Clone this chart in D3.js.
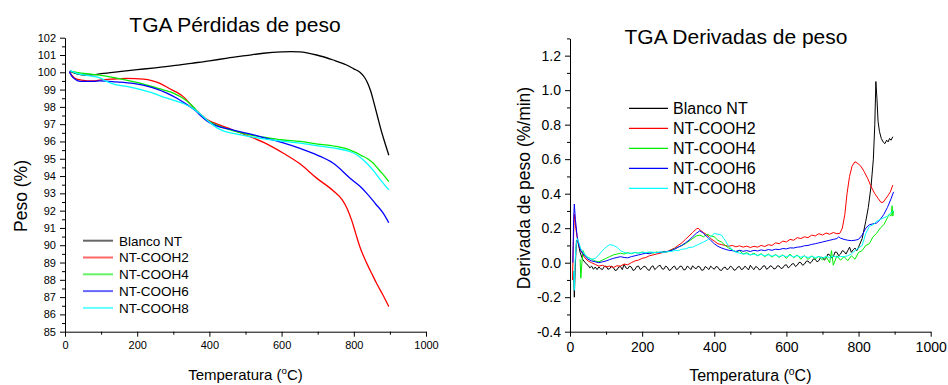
<!DOCTYPE html>
<html>
<head>
<meta charset="utf-8">
<script src="https://cdn.jsdelivr.net/npm/d3@7"></script>
<style>
  body { margin: 0; background: #fff; }
  svg { font-family: "Liberation Sans", Arial, sans-serif; }
  .axis path, .axis line { stroke: #000; }
  .axis text { fill: #000; }
</style>
</head>
<body>
<svg width="948" height="385"></svg>
<script>
// series names and colours
const seriesNames = ["Blanco NT", "NT-COOH2", "NT-COOH4", "NT-COOH6", "NT-COOH8"];
const seriesColors = ["#000000", "#ff0000", "#00ee00", "#0000ff", "#00ffff"];

const xTicks = [0, 200, 400, 600, 800, 1000];
const xMinor = [100, 300, 500, 700, 900];

// TGA weight loss, [temperature, peso %]
const pesoBlanco = [[14,100.1],[20,100.0],[40,99.88],[60,99.83],[80,99.86],[100,99.92],[150,100.04],[200,100.15],[250,100.26],[300,100.38],[350,100.52],[400,100.66],[450,100.82],[500,100.96],[550,101.1],[600,101.18],[625,101.2],[650,101.18],[697,101.0],[743,100.71],[780,100.42],[800,100.2],[817,100.0],[830,99.7],[840,99.3],[847,98.9],[855,98.3],[865,97.5],[875,96.7],[885,96.0],[897,95.2]];
const pesoCooh2 = [[13,100.0],[20,99.8],[30,99.62],[45,99.55],[78,99.5],[100,99.56],[125,99.6],[171,99.65],[217,99.6],[240,99.52],[263,99.36],[290,99.05],[309,98.85],[330,98.55],[356,97.95],[374,97.6],[395,97.25],[420,97.02],[460,96.7],[512,96.28],[560,95.85],[605,95.32],[650,94.72],[697,93.88],[743,93.15],[768,92.62],[782,92.1],[794,91.45],[805,90.7],[817,89.9],[836,88.95],[850,88.35],[863,87.8],[880,87.15],[897,86.45]];
const pesoCooh4 = [[18,100.05],[32,100.0],[60,99.92],[97,99.84],[140,99.68],[189,99.46],[230,99.25],[270,99.0],[300,98.8],[319,98.6],[340,98.3],[360,97.9],[374,97.55],[395,97.2],[420,96.95],[460,96.65],[512,96.38],[560,96.22],[600,96.1],[651,96.0],[700,95.85],[750,95.72],[790,95.5],[803,95.38],[820,95.2],[838,95.0],[854,94.74],[870,94.35],[885,94.0],[897,93.68]];
const pesoCooh6 = [[12,100.05],[18,99.8],[28,99.6],[42,99.48],[78,99.48],[97,99.5],[140,99.45],[189,99.36],[240,99.13],[282,98.8],[310,98.5],[340,98.1],[360,97.8],[374,97.53],[395,97.15],[420,96.9],[466,96.66],[512,96.44],[559,96.18],[600,95.95],[651,95.6],[700,95.2],[743,94.74],[795,93.78],[820,93.35],[836,93.0],[860,92.4],[880,91.9],[897,91.3]];
const pesoCooh8 = [[14,100.1],[30,99.95],[60,99.82],[97,99.68],[115,99.47],[140,99.28],[171,99.18],[235,98.85],[280,98.52],[327,98.2],[355,97.9],[374,97.6],[400,97.12],[420,96.8],[440,96.6],[466,96.47],[512,96.28],[560,96.12],[600,96.02],[651,95.9],[700,95.75],[750,95.6],[789,95.42],[810,95.2],[836,94.74],[855,94.3],[875,93.75],[897,93.2]];

// derivative, [temperature, %/min]
const derivBlanco = [[10,-0.05],[12,-0.2],[15,0.0],[18,0.13],[22,0.12],[28,0.06],[35,0.02],[42,0.0],[50,-0.015],[55,-0.03],[60,-0.02],[65,-0.038],[70,-0.025],[75,-0.04],[80,-0.025],[85,-0.035],[90,-0.04],[95,-0.022],[100,-0.02],[105,-0.038],[110,-0.035],[115,-0.02],[120,-0.028],[125,-0.045],[130,-0.042],[135,-0.025],[140,-0.022],[145,-0.04],[150,-0.01],[155,-0.03],[160,-0.035],[165,-0.02],[170,-0.025],[175,-0.045],[180,-0.04],[185,-0.022],[190,-0.02],[195,-0.04],[200,-0.032],[205,-0.02],[210,-0.024],[215,-0.04],[220,-0.045],[225,-0.025],[230,-0.018],[235,-0.04],[240,-0.03],[245,-0.02],[250,-0.015],[255,-0.035],[260,-0.038],[265,-0.02],[270,-0.026],[275,-0.045],[280,-0.04],[285,-0.025],[290,-0.02],[295,-0.04],[300,-0.035],[305,-0.02],[310,-0.022],[315,-0.042],[320,-0.04],[325,-0.02],[330,-0.028],[335,-0.04],[340,-0.018],[345,-0.03],[350,-0.035],[355,-0.02],[360,-0.025],[365,-0.044],[370,-0.042],[375,-0.022],[380,-0.03],[385,-0.04],[390,-0.02],[395,-0.03],[400,-0.038],[405,-0.022],[410,-0.026],[415,-0.042],[420,-0.045],[425,-0.03],[430,-0.025],[435,-0.04],[440,-0.035],[445,-0.02],[450,-0.028],[455,-0.044],[460,-0.04],[465,-0.025],[470,-0.022],[475,-0.04],[480,-0.036],[485,-0.02],[490,-0.03],[495,-0.042],[500,-0.015],[505,-0.03],[510,-0.04],[515,-0.022],[520,-0.028],[525,-0.042],[530,-0.036],[535,-0.02],[540,-0.018],[545,-0.038],[550,-0.032],[555,-0.018],[560,-0.022],[565,-0.036],[570,-0.034],[575,-0.018],[580,-0.02],[585,-0.034],[590,-0.03],[595,-0.015],[600,-0.012],[605,-0.03],[610,-0.022],[615,-0.008],[620,-0.005],[625,-0.022],[630,-0.015],[635,0.002],[640,0.0],[645,-0.015],[650,-0.008],[655,0.008],[660,0.01],[665,-0.004],[670,0.005],[675,0.022],[680,0.02],[685,0.005],[690,0.012],[695,0.032],[700,0.03],[705,0.015],[710,0.025],[715,0.05],[720,0.045],[725,0.028],[730,0.035],[735,0.062],[740,0.06],[745,0.04],[750,0.05],[755,0.07],[760,0.065],[765,0.05],[770,0.07],[775,0.09],[780,0.06],[785,0.075],[790,0.085],[795,0.07],[800,0.09],[810,0.14],[820,0.24],[827,0.32],[835,0.45],[841,0.6],[845,0.8],[848,1.05],[851,0.95],[854,0.82],[858,0.76],[863,0.72],[868,0.7],[873,0.69],[878,0.71],[882,0.7],[886,0.72],[890,0.71],[895,0.73]];
const derivCooh2 = [[7,-0.1],[9,0.1],[12,0.28],[16,0.2],[22,0.12],[30,0.07],[40,0.03],[50,0.01],[60,0.0],[70,-0.01],[80,-0.02],[90,-0.015],[100,-0.025],[110,-0.02],[120,-0.028],[130,-0.018],[140,-0.02],[150,-0.008],[160,-0.012],[170,0.0],[180,0.01],[190,0.015],[200,0.025],[210,0.03],[220,0.04],[230,0.045],[240,0.05],[250,0.055],[260,0.06],[270,0.065],[280,0.075],[290,0.085],[300,0.1],[310,0.115],[320,0.135],[330,0.155],[340,0.175],[350,0.195],[355,0.2],[360,0.19],[370,0.175],[380,0.16],[390,0.14],[400,0.125],[410,0.11],[420,0.105],[430,0.1],[440,0.095],[450,0.1],[460,0.092],[470,0.098],[480,0.09],[490,0.096],[500,0.088],[510,0.095],[520,0.09],[530,0.1],[540,0.094],[550,0.104],[560,0.1],[570,0.115],[580,0.11],[590,0.125],[600,0.12],[610,0.135],[620,0.13],[630,0.145],[640,0.14],[650,0.15],[660,0.145],[670,0.16],[680,0.155],[690,0.168],[700,0.16],[710,0.172],[720,0.165],[730,0.175],[740,0.168],[748,0.17],[755,0.2],[762,0.28],[768,0.4],[775,0.5],[782,0.56],[790,0.585],[798,0.575],[806,0.56],[815,0.53],[825,0.49],[835,0.44],[845,0.4],[855,0.37],[862,0.35],[868,0.35],[875,0.37],[882,0.39],[888,0.41],[895,0.45]];
const derivCooh4 = [[28,0.02],[30,-0.09],[33,0.0],[36,0.07],[40,0.05],[45,0.035],[50,0.03],[60,0.02],[70,0.01],[80,0.005],[90,0.015],[100,0.025],[110,0.035],[120,0.045],[130,0.05],[140,0.055],[150,0.05],[160,0.058],[170,0.052],[180,0.06],[190,0.055],[200,0.062],[210,0.058],[220,0.06],[230,0.055],[240,0.062],[250,0.058],[260,0.065],[270,0.062],[280,0.072],[290,0.08],[300,0.09],[310,0.1],[320,0.11],[330,0.125],[340,0.14],[350,0.155],[360,0.16],[370,0.15],[380,0.165],[390,0.155],[400,0.15],[410,0.13],[420,0.12],[430,0.1],[440,0.085],[450,0.075],[460,0.062],[470,0.07],[480,0.05],[490,0.058],[500,0.045],[510,0.055],[520,0.04],[530,0.052],[540,0.035],[550,0.05],[560,0.032],[570,0.048],[580,0.03],[590,0.046],[600,0.025],[610,0.05],[620,0.028],[630,0.045],[640,0.02],[650,0.042],[660,0.018],[670,0.04],[680,0.022],[690,0.038],[700,0.015],[710,0.035],[720,0.0],[725,0.07],[730,-0.015],[740,0.04],[750,0.015],[760,0.035],[770,0.012],[780,0.04],[790,0.02],[800,0.06],[810,0.07],[820,0.1],[830,0.11],[840,0.15],[850,0.17],[860,0.2],[870,0.22],[880,0.26],[885,0.28],[890,0.27],[893,0.33],[895,0.27],[897,0.3]];
const derivCooh6 = [[8,0.0],[10,0.25],[12,0.34],[15,0.25],[20,0.15],[25,0.1],[30,0.07],[40,0.04],[50,0.02],[60,0.01],[70,0.005],[80,0.0],[90,0.005],[100,0.01],[110,0.018],[120,0.025],[130,0.03],[140,0.035],[150,0.03],[160,0.028],[170,0.035],[180,0.04],[190,0.045],[200,0.05],[210,0.055],[220,0.052],[230,0.06],[240,0.058],[250,0.06],[260,0.062],[270,0.065],[280,0.07],[290,0.078],[300,0.09],[310,0.1],[320,0.115],[330,0.13],[340,0.15],[350,0.17],[360,0.185],[370,0.17],[380,0.15],[390,0.13],[400,0.11],[410,0.095],[420,0.085],[430,0.078],[440,0.072],[450,0.07],[460,0.065],[470,0.072],[480,0.066],[490,0.07],[500,0.065],[510,0.072],[520,0.068],[530,0.074],[540,0.07],[550,0.076],[560,0.072],[570,0.078],[580,0.076],[590,0.082],[600,0.08],[610,0.086],[620,0.085],[630,0.09],[640,0.092],[650,0.098],[660,0.1],[670,0.106],[680,0.11],[690,0.115],[700,0.12],[710,0.125],[720,0.13],[730,0.135],[740,0.14],[745,0.15],[750,0.142],[760,0.135],[770,0.13],[780,0.128],[790,0.13],[800,0.135],[810,0.16],[820,0.2],[830,0.22],[840,0.225],[850,0.23],[860,0.25],[870,0.28],[880,0.32],[890,0.37],[897,0.41]];
const derivCooh8 = [[10,-0.05],[12,-0.16],[14,0.0],[17,0.1],[20,0.14],[24,0.12],[30,0.08],[40,0.05],[50,0.03],[60,0.02],[70,0.025],[80,0.045],[90,0.07],[100,0.09],[110,0.105],[120,0.1],[130,0.09],[140,0.07],[150,0.06],[160,0.055],[170,0.055],[180,0.058],[190,0.055],[200,0.06],[210,0.058],[220,0.062],[230,0.06],[240,0.058],[250,0.062],[260,0.06],[270,0.064],[280,0.065],[290,0.07],[300,0.07],[310,0.078],[320,0.08],[330,0.088],[340,0.09],[350,0.1],[360,0.11],[370,0.12],[380,0.13],[390,0.15],[400,0.17],[410,0.165],[420,0.16],[430,0.13],[440,0.095],[450,0.075],[460,0.062],[470,0.055],[480,0.05],[490,0.052],[500,0.045],[510,0.05],[520,0.042],[530,0.048],[540,0.04],[550,0.046],[560,0.038],[570,0.044],[580,0.036],[590,0.042],[600,0.035],[610,0.042],[620,0.034],[630,0.04],[640,0.032],[650,0.038],[660,0.03],[670,0.036],[680,0.03],[690,0.035],[700,0.028],[710,0.036],[720,0.03],[730,0.038],[740,0.032],[750,0.036],[760,0.035],[770,0.04],[780,0.05],[790,0.07],[800,0.085],[810,0.1],[820,0.17],[830,0.21],[840,0.22],[850,0.24],[860,0.25],[870,0.26],[880,0.27],[890,0.29],[897,0.3]];

const pesoSeries = [pesoBlanco, pesoCooh2, pesoCooh4, pesoCooh6, pesoCooh8];
const derivSeries = [derivBlanco, derivCooh2, derivCooh4, derivCooh6, derivCooh8];

const pesoTicks = d3.range(85, 103, 1);
const pesoMinor = d3.range(85.5, 102, 1);
const derivTicks = [-0.4, -0.2, 0.0, 0.2, 0.4, 0.6, 0.8, 1.0, 1.2];
const derivMinor = [-0.3, -0.1, 0.1, 0.3, 0.5, 0.7, 0.9, 1.1, 1.3];

const svg = d3.select("svg");

// plain hyphen instead of d3's unicode minus
const fmt1 = d => d3.format(".1f")(d).replace("\u2212", "-");

function drawPanel(cfg) {
  const x = d3.scaleLinear().domain([0, 1000]).range(cfg.xRange);
  const y = d3.scaleLinear().domain(cfg.yDomain).range(cfg.yRange);
  const g = svg.append("g");

  // minor ticks first, then major with labels
  g.append("g").attr("class", "axis")
    .attr("transform", `translate(0,${cfg.yRange[0]})`)
    .call(d3.axisBottom(x).tickValues(xMinor).tickSize(3).tickFormat(""))
    .select(".domain").remove();
  g.append("g").attr("class", "axis")
    .attr("transform", `translate(${cfg.xRange[0]},0)`)
    .call(d3.axisLeft(y).tickValues(cfg.yMinor).tickSize(3).tickFormat(""))
    .select(".domain").remove();

  g.append("g").attr("class", "axis")
    .attr("transform", `translate(0,${cfg.yRange[0]})`)
    .call(d3.axisBottom(x).tickValues(xTicks).tickSize(5).tickSizeOuter(0).tickPadding(5)
      .tickFormat(d3.format("d")))
    .selectAll("text").style("font-size", cfg.tickFont + "px");
  g.append("g").attr("class", "axis")
    .attr("transform", `translate(${cfg.xRange[0]},0)`)
    .call(d3.axisLeft(y).tickValues(cfg.yTicks).tickSize(5).tickSizeOuter(0).tickPadding(4)
      .tickFormat(cfg.yFormat))
    .selectAll("text").style("font-size", cfg.tickFont + "px");

  const line = d3.line()
    .x(d => x(d[0]))
    .y(d => y(d[1]))
    .curve(cfg.curve);

  g.selectAll("path.series")
    .data(cfg.series)
    .enter().append("path")
    .attr("class", "series")
    .attr("fill", "none")
    .attr("stroke", (d, i) => seriesColors[i])
    .attr("stroke-width", cfg.lineWidth)
    .attr("d", line);

  // titles
  g.append("text")
    .attr("x", cfg.titleX).attr("y", cfg.titleY)
    .attr("text-anchor", "middle")
    .style("font-size", "21px")
    .text(cfg.title);

  const xl = g.append("text")
    .attr("x", (cfg.xRange[0] + cfg.xRange[1]) / 2).attr("y", cfg.xLabelY)
    .attr("text-anchor", "middle")
    .style("font-size", cfg.xLabelFont + "px");
  xl.append("tspan").text("Temperatura (");
  xl.append("tspan").attr("dy", -6).style("font-size", (cfg.xLabelFont * 0.65) + "px").text("o");
  xl.append("tspan").attr("dy", 6).text("C)");

  g.append("text")
    .attr("transform", `translate(${cfg.yLabelX},${cfg.yLabelY}) rotate(-90)`)
    .attr("text-anchor", "middle")
    .style("font-size", cfg.yLabelFont + "px")
    .text(cfg.yLabel);

  // legend
  const leg = g.selectAll("g.legend")
    .data(seriesNames)
    .enter().append("g")
    .attr("class", "legend")
    .attr("transform", (d, i) => `translate(${cfg.legX},${cfg.legY + i * cfg.legStep})`);
  leg.append("line")
    .attr("x1", 0).attr("x2", cfg.legLine)
    .attr("stroke", (d, i) => seriesColors[i])
    .attr("stroke-width", cfg.legWidth)
    .attr("stroke-opacity", cfg.legOpacity);
  leg.append("text")
    .attr("x", cfg.legLine + cfg.legGap)
    .attr("dy", "0.36em")
    .style("font-size", cfg.legFont + "px")
    .text(d => d);
}

drawPanel({
  xRange: [65, 426], yDomain: [85, 102], yRange: [331.7, 37.7],
  yTicks: pesoTicks, yMinor: pesoMinor, yFormat: d3.format("d"),
  tickFont: 11, series: pesoSeries, curve: d3.curveMonotoneX, lineWidth: 1.3,
  title: "TGA Pérdidas de peso", titleX: 235, titleY: 32,
  xLabelY: 380, xLabelFont: 15,
  yLabel: "Peso (%)", yLabelX: 27, yLabelY: 196, yLabelFont: 17.5,
  legX: 83, legY: 240.7, legStep: 16.8, legLine: 30, legGap: 6,
  legWidth: 2, legOpacity: 0.6, legFont: 13.5
});

drawPanel({
  xRange: [570, 930.7], yDomain: [-0.4, 1.3], yRange: [331.7, 38.4],
  yTicks: derivTicks, yMinor: derivMinor, yFormat: fmt1,
  tickFont: 14, series: derivSeries, curve: d3.curveLinear, lineWidth: 1,
  title: "TGA Derivadas de peso", titleX: 736, titleY: 44,
  xLabelY: 381, xLabelFont: 16,
  yLabel: "Derivada de peso (%/min)", yLabelX: 530, yLabelY: 188, yLabelFont: 17.5,
  legX: 629, legY: 108.3, legStep: 20, legLine: 39, legGap: 5,
  legWidth: 1.3, legOpacity: 1, legFont: 16
});
</script>
</body>
</html>
